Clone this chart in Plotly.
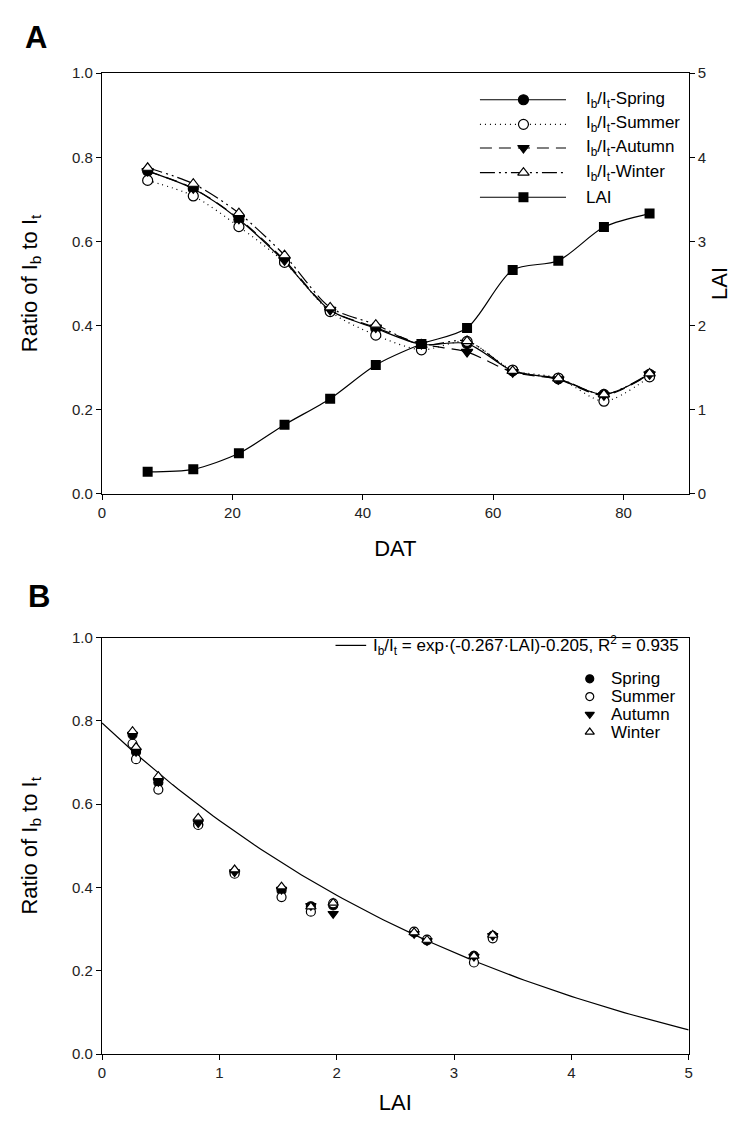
import plotly.graph_objects as go

# ---------------- data ----------------
DAT = [7, 14, 21, 28, 35, 42, 49, 56, 63, 70, 77, 84]
RATIO_SPRING = [0.767, 0.725, 0.652, 0.552, 0.436, 0.393, 0.355, 0.357, 0.292, 0.273, 0.236, 0.284]
RATIO_SUMMER = [0.745, 0.708, 0.635, 0.550, 0.433, 0.377, 0.342, 0.362, 0.294, 0.275, 0.220, 0.278]
RATIO_AUTUMN = [0.767, 0.726, 0.654, 0.555, 0.437, 0.395, 0.356, 0.337, 0.289, 0.272, 0.234, 0.284]
RATIO_WINTER = [0.775, 0.737, 0.667, 0.567, 0.443, 0.402, 0.354, 0.363, 0.292, 0.274, 0.236, 0.286]
LAI = [0.26, 0.29, 0.48, 0.82, 1.13, 1.53, 1.78, 1.97, 2.66, 2.77, 3.17, 3.33]

FIT_K = -0.267
FIT_C = -0.205
FIT_R2 = 0.935
FIT_X = [i * 0.05 for i in range(101)]
FIT_Y = [2.718281828459045 ** (FIT_K * x) + FIT_C for x in FIT_X]

SEASONS = ["Spring", "Summer", "Autumn", "Winter"]

# ---------------- layout helpers ----------------
W, H = 747, 1128
FONT = "Liberation Sans, Arial, sans-serif"


def dom_x(a, b):
    return [a / W, b / W]


def dom_y(top, bottom):
    return [1 - bottom / H, 1 - top / H]


A_X = dom_x(91, 684)
A_Y = dom_y(57, 484)
B_X = dom_x(91, 684)
B_Y = dom_y(630, 1053)

fig = go.Figure()

LW = 1.2
styles = {
    "Spring": dict(dash="solid", symbol="circle", fill="black"),
    "Summer": dict(dash="1px,4px", symbol="circle", fill="white"),
    "Autumn": dict(dash="12px,7px", symbol="triangle-down", fill="black"),
    "Winter": dict(dash="15px,4px,2px,4px,2px,4px", symbol="triangle-up", fill="white"),
}
series = {
    "Spring": RATIO_SPRING,
    "Summer": RATIO_SUMMER,
    "Autumn": RATIO_AUTUMN,
    "Winter": RATIO_WINTER,
}


def marker_for(name, size):
    st = styles[name]
    return dict(symbol=st["symbol"], size=size, color=st["fill"],
                line=dict(color="black", width=1.2))


# ---------- Panel A ----------
for name in SEASONS:
    fig.add_trace(go.Scatter(
        x=DAT, y=series[name], mode="lines+markers",
        name="I<sub>b</sub>/I<sub>t</sub>-" + name,
        line=dict(color="black", width=LW, dash=styles[name]["dash"],
                  shape="spline", smoothing=0.8),
        marker=marker_for(name, 10),
        xaxis="x", yaxis="y", showlegend=False))

fig.add_trace(go.Scatter(
    x=DAT, y=LAI, mode="lines+markers", name="LAI",
    line=dict(color="black", width=LW, shape="spline", smoothing=0.8),
    marker=dict(symbol="square", size=10, color="black"),
    xaxis="x", yaxis="y2", showlegend=False))

# ---------- Panel B ----------
fig.add_trace(go.Scatter(
    x=FIT_X, y=FIT_Y, mode="lines", name="fit",
    line=dict(color="black", width=LW),
    xaxis="x2", yaxis="y3", showlegend=False))
for name in SEASONS:
    fig.add_trace(go.Scatter(
        x=LAI, y=series[name], mode="markers", name=name,
        marker=marker_for(name, 9),
        xaxis="x2", yaxis="y3", showlegend=False))

# ---------- manual legends on a hidden pixel-space overlay ----------
LEG_A_Y = [84, 109, 133, 158, 183]
LEG_A_LINE = [473, 560]
LEG_A_MARK = 517
LEG_A_TEXT = 578
leg_entries = SEASONS + ["LAI"]
for i, name in enumerate(leg_entries):
    yy = LEG_A_Y[i]
    if name == "LAI":
        dash, mk = "solid", dict(symbol="square", size=10, color="black")
        label = "LAI"
    else:
        dash, mk = styles[name]["dash"], marker_for(name, 10)
        label = "I<sub>b</sub>/I<sub>t</sub>-" + name
    fig.add_trace(go.Scatter(x=LEG_A_LINE, y=[yy, yy], mode="lines",
                             line=dict(color="black", width=LW, dash=dash),
                             xaxis="x3", yaxis="y4", showlegend=False, hoverinfo="skip"))
    fig.add_trace(go.Scatter(x=[LEG_A_MARK], y=[yy], mode="markers", marker=mk,
                             xaxis="x3", yaxis="y4", showlegend=False, hoverinfo="skip"))
    fig.add_annotation(x=LEG_A_TEXT, y=yy, xref="x3", yref="y4", text=label,
                       showarrow=False, xanchor="left", yanchor="middle",
                       font=dict(family=FONT, size=17, color="black"))

# panel B legend
FIT_ROW_Y = 638
fig.add_trace(go.Scatter(x=[327, 358], y=[FIT_ROW_Y, FIT_ROW_Y], mode="lines",
                         line=dict(color="black", width=LW),
                         xaxis="x3", yaxis="y4", showlegend=False, hoverinfo="skip"))
fig.add_annotation(x=363, y=FIT_ROW_Y, xref="x3", yref="y4",
                   text=("I<sub>b</sub>/I<sub>t</sub> = exp\u00b7(%.3f\u00b7LAI)%.3f, R<sup>2</sup> = %.3f"
                         % (FIT_K, FIT_C, FIT_R2)),
                   showarrow=False, xanchor="left", yanchor="middle",
                   font=dict(family=FONT, size=17, color="black"))
LEG_B_Y = [672, 690, 708, 726]
for i, name in enumerate(SEASONS):
    fig.add_trace(go.Scatter(x=[584], y=[LEG_B_Y[i]], mode="markers",
                             marker=marker_for(name, 8),
                             xaxis="x3", yaxis="y4", showlegend=False, hoverinfo="skip"))
    fig.add_annotation(x=603, y=LEG_B_Y[i], xref="x3", yref="y4", text=name,
                       showarrow=False, xanchor="left", yanchor="middle",
                       font=dict(family=FONT, size=17, color="black"))

# panel letters
fig.add_annotation(x=24 / W, y=1 - 21 / H, xref="paper", yref="paper", text="<b>A</b>",
                   showarrow=False, xanchor="center", yanchor="middle",
                   font=dict(family=FONT, size=31, color="black"))
fig.add_annotation(x=27 / W, y=1 - 588 / H, xref="paper", yref="paper", text="<b>B</b>",
                   showarrow=False, xanchor="center", yanchor="middle",
                   font=dict(family=FONT, size=31, color="black"))

# ---------------- axes ----------------
axis_common = dict(showline=True, linecolor="black", linewidth=1.3,
                   ticks="outside", ticklen=5, tickwidth=1.2, tickcolor="black",
                   showgrid=False, zeroline=False,
                   tickfont=dict(family=FONT, size=15, color="#222"))
title_font = dict(family=FONT, size=22, color="black")

fig.update_layout(
    width=W, height=H,
    margin=dict(l=0, r=0, t=0, b=0),
    paper_bgcolor="white", plot_bgcolor="rgba(0,0,0,0)",
    showlegend=False,
    xaxis=dict(domain=A_X, anchor="y", range=[0, 90], dtick=20, tick0=0, mirror=True,
               title=dict(text="DAT", font=title_font, standoff=20), **axis_common),
    yaxis=dict(domain=A_Y, anchor="x", range=[0, 1], dtick=0.2, tickformat=".1f",
               title=dict(text="Ratio of I<sub>b</sub> to I<sub>t</sub>", font=title_font, standoff=28),
               **axis_common),
    yaxis2=dict(overlaying="y", anchor="x", side="right", range=[0, 5], dtick=1,
                title=dict(text="LAI", font=title_font, standoff=6), **axis_common),
    xaxis2=dict(domain=B_X, anchor="y3", range=[0, 5], dtick=1, mirror=True,
                title=dict(text="LAI", font=title_font, standoff=14), **axis_common),
    yaxis3=dict(domain=B_Y, anchor="x2", range=[0, 1], dtick=0.2, tickformat=".1f", mirror=True,
                title=dict(text="Ratio of I<sub>b</sub> to I<sub>t</sub>", font=title_font, standoff=28),
                **axis_common),
    xaxis3=dict(domain=[0, 1], anchor="y4", range=[0, W], visible=False, fixedrange=True),
    yaxis4=dict(domain=[0, 1], anchor="x3", range=[H, 0], visible=False, fixedrange=True),
)

fig.write_html("out.html")
